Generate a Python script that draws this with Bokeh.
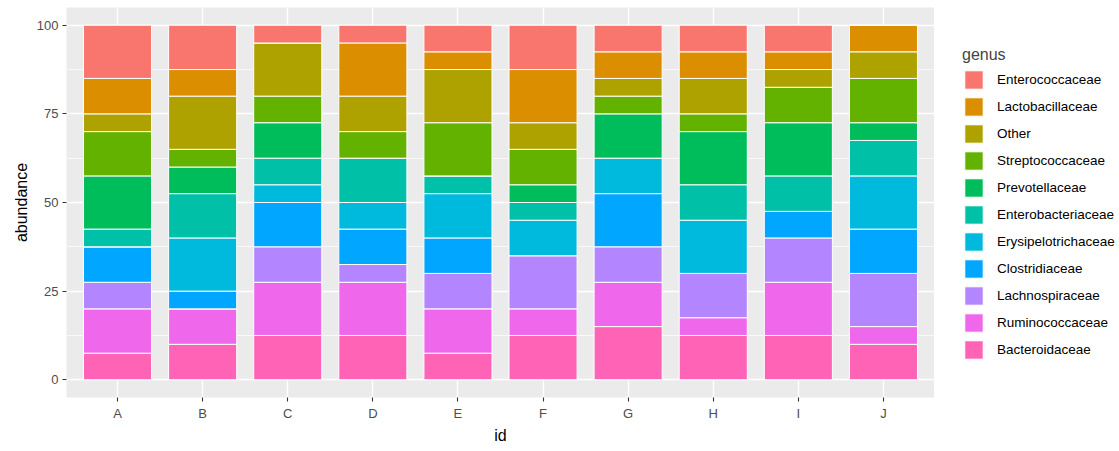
from bokeh.plotting import figure
from bokeh.layouts import row
from bokeh.models import Range1d, FactorRange, SingleIntervalTicker, Legend, LegendItem, ColumnDataSource, Grid
from bokeh.embed import file_html
from bokeh.resources import INLINE

ids = ["A", "B", "C", "D", "E", "F", "G", "H", "I", "J"]
genera = ["Bacteroidaceae", "Ruminococcaceae", "Lachnospiraceae", "Clostridiaceae",
          "Erysipelotrichaceae", "Enterobacteriaceae", "Prevotellaceae", "Streptococcaceae",
          "Other", "Lactobacillaceae", "Enterococcaceae"]
colors = ["#FF63B6", "#EF67EB", "#B385FF", "#00A6FF", "#00BADE", "#00C1A7",
          "#00BD5C", "#64B200", "#AEA200", "#DB8E00", "#F8766D"]

Bacteroidaceae = [7.5, 10, 12.5, 12.5, 7.5, 12.5, 15, 12.5, 12.5, 10]
Ruminococcaceae = [12.5, 10, 15, 15, 12.5, 7.5, 12.5, 5, 15, 5]
Lachnospiraceae = [7.5, 0, 10, 5, 10, 15, 10, 12.5, 12.5, 15]
Clostridiaceae = [10, 5, 12.5, 10, 10, 0, 15, 0, 7.5, 12.5]
Erysipelotrichaceae = [0, 15, 5, 7.5, 12.5, 10, 10, 15, 0, 15]
Enterobacteriaceae = [5, 12.5, 7.5, 12.5, 5, 5, 0, 10, 10, 10]
Prevotellaceae = [15, 7.5, 10, 0, 0, 5, 12.5, 15, 15, 5]
Streptococcaceae = [12.5, 5, 7.5, 7.5, 15, 10, 5, 5, 10, 12.5]
Other = [5, 15, 15, 10, 15, 7.5, 5, 10, 5, 7.5]
Lactobacillaceae = [10, 7.5, 0, 15, 5, 15, 7.5, 7.5, 5, 7.5]
Enterococcaceae = [15, 12.5, 5, 5, 7.5, 12.5, 7.5, 7.5, 7.5, 0]

series = [Bacteroidaceae, Ruminococcaceae, Lachnospiraceae, Clostridiaceae,
          Erysipelotrichaceae, Enterobacteriaceae, Prevotellaceae, Streptococcaceae,
          Other, Lactobacillaceae, Enterococcaceae]

data = {"id": ids}
for g, s in zip(genera, series):
    data[g] = s
source = ColumnDataSource(data)

FONT = "Liberation Sans"
H = 446
TOP, BOTTOM = 7, 47

p = figure(width=934, height=H, output_backend="svg", toolbar_location=None,
           x_range=FactorRange(factors=ids, range_padding=0.1, range_padding_units="absolute"),
           y_range=Range1d(-5, 105),
           min_border_left=66, min_border_right=0, min_border_top=TOP, min_border_bottom=BOTTOM)

p.background_fill_color = "#EBEBEB"
p.border_fill_color = "white"
p.outline_line_color = None

renderers = p.vbar_stack(genera, x="id", width=0.8, source=source, color=colors,
                         line_color="white", line_width=1)

# grids
p.xgrid.grid_line_color = "white"
p.xgrid.grid_line_width = 1.4
p.ygrid.ticker = SingleIntervalTicker(interval=25, num_minor_ticks=2)
p.ygrid.grid_line_color = "white"
p.ygrid.grid_line_width = 1.4
p.ygrid.minor_grid_line_color = "white"
p.ygrid.minor_grid_line_width = 0.7

# axes
p.yaxis.ticker = SingleIntervalTicker(interval=25, num_minor_ticks=2)
for ax in (p.xaxis[0], p.yaxis[0]):
    ax.axis_line_color = None
    ax.major_tick_line_color = "#333333"
    ax.major_tick_line_width = 1.1
    ax.major_tick_in = 0
    ax.major_tick_out = 4
    ax.minor_tick_line_color = None
    ax.major_label_text_color = "#4D4D4D"
    ax.major_label_text_font = FONT
    ax.major_label_text_font_size = "13px"
    ax.axis_label_text_font = FONT
    ax.axis_label_text_font_size = "16px"
    ax.axis_label_text_font_style = "normal"
    ax.axis_label_text_color = "black"

p.xaxis.axis_label = "id"
p.yaxis.axis_label = "abundance"
p.xaxis.major_label_standoff = 4
p.xaxis.axis_label_standoff = 3
p.yaxis.major_label_standoff = 4
p.yaxis.axis_label_standoff = 4

# legend panel: a second figure (no axes, no grids) carrying the legend;
# its zero-width bars lie outside its view, so only the legend shows
pl = figure(width=185, height=H, output_backend="svg", toolbar_location=None,
            x_axis_location=None, y_axis_location=None,
            x_range=FactorRange(factors=ids), y_range=Range1d(1000, 1100),
            min_border_left=0, min_border_right=0, min_border_top=TOP, min_border_bottom=BOTTOM)
pl.outline_line_color = None
pl.background_fill_color = "white"
pl.border_fill_color = "white"
pl.center = [r for r in pl.center if not isinstance(r, Grid)]
leg_renderers = pl.vbar_stack(genera, x="id", width=0.0, source=source, color=colors,
                              line_color="white", line_width=1)

items = [LegendItem(label=g, renderers=[r]) for g, r in zip(genera[::-1], leg_renderers[::-1])]
legend = Legend(items=items, location=(28, 36), title="genus",
                title_text_font=FONT, title_text_font_size="16px", title_text_font_style="normal",
                title_standoff=4,
                label_text_font=FONT, label_text_font_size="13.5px", label_text_color="black",
                glyph_width=23, glyph_height=23, label_height=23, spacing=4,
                label_standoff=12, padding=0, margin=0,
                border_line_color=None, background_fill_alpha=0)
pl.add_layout(legend, "center")

layout = row(p, pl, spacing=0)
open("out.html", "w").write(file_html(layout, INLINE))
